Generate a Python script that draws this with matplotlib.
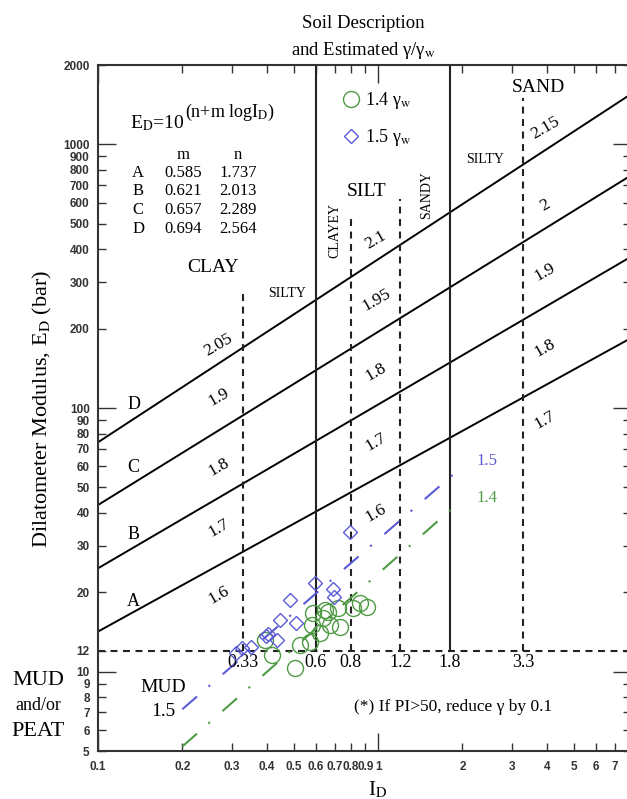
"""Dilatometer modulus vs material index chart with soil description
and estimated unit weight zones (E_D = 10^(n + m log I_D))."""
import math

import matplotlib

matplotlib.use("Agg")
import matplotlib.pyplot as plt  # noqa: E402
from matplotlib.ticker import FixedLocator, FuncFormatter  # noqa: E402

plt.rcParams["font.family"] = ["Liberation Serif", "DejaVu Serif"]
plt.rcParams["mathtext.fontset"] = "stix"
plt.rcParams["lines.scale_dashes"] = False

# coefficients of the four gamma lines
line_names = ["A", "B", "C", "D"]
m_vals = [0.585, 0.621, 0.657, 0.694]
n_vals = [1.737, 2.013, 2.289, 2.564]

# soil-type boundaries (I_D) and the E_D they run up to
id_bounds = [0.33, 0.6, 0.8, 1.2, 1.8, 3.3]
bound_tops = [280, 2000, 520, 620, 2000, 1500]
bound_labels = ["0.33", "0.6", "0.8", "1.2", "1.8", "3.3"]
solid_bounds = [0.6, 1.8]
mud_limit = 12

# gamma/gamma_w labels in each zone
clay_gamma = ["1.6", "1.7", "1.8", "1.9", "2.05"]
clay_gamma_ed = [19.5, 35.1, 59.8, 110, 173]
silt_gamma = ["1.6", "1.7", "1.8", "1.95", "2.1"]
silt_gamma_ed = [40, 74.3, 137, 257, 434]
sand_gamma = ["1.7", "1.8", "1.9", "2", "2.15"]
sand_gamma_ed = [90.1, 169, 328, 589, 1154]

# measured points
circle_id = [0.394, 0.418, 0.505, 0.527, 0.572, 0.581, 0.586, 0.621, 0.636,
             0.647, 0.663, 0.674, 0.720, 0.732, 0.814, 0.862, 0.914]
circle_ed = [13.2, 11.6, 10.3, 12.6, 13.0, 15.0, 16.7, 14.0, 16.0,
             17.1, 16.8, 15.0, 17.4, 14.8, 17.4, 18.2, 17.6]
diamond_id = [0.311, 0.327, 0.352, 0.398, 0.405, 0.436, 0.447, 0.485,
              0.510, 0.596, 0.691, 0.697, 0.794]
diamond_ed = [11.8, 12.3, 12.4, 13.7, 13.9, 13.2, 15.7, 18.7,
              15.3, 21.7, 20.6, 19.2, 33.9]

# fitted 1.5 / 1.4 gamma_w trend lines
guide_id = [0.2, 2.0]
guide15_ed = [7.2, 60]
guide14_ed = [5.2, 45]

X_MIN, X_MAX = 0.1, 8.0
GREEN = "#4f9a45"
BLUE = "#5b5bd6"

fig = plt.figure(figsize=(6.27, 7.99), dpi=100)
ax = fig.add_axes([98 / 627, 48 / 799, 533 / 627, 686 / 799])
ax.set_xscale("log")
ax.set_yscale("log")
ax.set_xlim(X_MIN, X_MAX)
ax.set_ylim(5, 2000)

# gamma lines A-D
for m, n in zip(m_vals, n_vals):
    xs = [X_MIN, X_MAX]
    ys = [10 ** (n + m * math.log10(x)) for x in xs]
    ax.plot(xs, ys, color="black", lw=1.4, zorder=2)

# zone boundaries
for b, top in zip(id_bounds, bound_tops):
    if b in solid_bounds:
        ax.plot([b, b], [mud_limit, top], color="#222222", lw=1.5, zorder=2)
    else:
        ax.plot([b, b], [mud_limit, top], color="#222222", lw=1.5,
                dashes=(5, 4), zorder=2)
ax.plot([X_MIN, X_MAX], [mud_limit, mud_limit], color="#222222", lw=1.5,
        dashes=(5, 4), zorder=2)
for b, lab in zip(id_bounds, bound_labels):
    ax.text(b, 10.8, lab, ha="center", va="center", fontsize=13)

# trend lines
ax.plot(guide_id, guide15_ed, color=BLUE, lw=1.5, dashes=(14, 11, 1.5, 12))
ax.plot(guide_id, guide14_ed, color=GREEN, lw=1.5, dashes=(14, 11, 1.5, 12))
ax.text(2.25, 63, "1.5", color=BLUE, fontsize=12, va="center")
ax.text(2.25, 45.5, "1.4", color=GREEN, fontsize=12, va="center")

# data
ax.plot(circle_id, circle_ed, "o", ms=11.5, mfc="none", mec=GREEN, mew=1.0,
        label="1.4 γ$_\\mathrm{w}$", zorder=3)
ax.plot(diamond_id, diamond_ed, "D", ms=7.5, mfc="none", mec=BLUE, mew=1.0,
        label="1.5 γ$_\\mathrm{w}$", zorder=3)
ax.legend(loc="upper left", bbox_to_anchor=(0.443, 0.976), frameon=False,
          fontsize=13, numpoints=1, handlelength=0.9, handletextpad=0.3,
          labelspacing=0.85, borderpad=0)

# zone gamma labels
for lab, ed in zip(clay_gamma, clay_gamma_ed):
    ax.text(0.27, ed, lab, rotation=30, ha="center", va="center", fontsize=12.5)
for lab, ed in zip(silt_gamma, silt_gamma_ed):
    ax.text(0.984, ed, lab, rotation=30, ha="center", va="center", fontsize=12.5)
for lab, ed in zip(sand_gamma, sand_gamma_ed):
    ax.text(3.95, ed, lab, rotation=30, ha="center", va="center", fontsize=12.5)

# line letters
for name, ed in zip(line_names, [18.4, 33.0, 59.3, 102.7]):
    ax.text(0.134, ed, name, ha="center", va="center", fontsize=13)

# soil descriptions
ax.text(0.2576, 340, "CLAY", ha="center", va="center", fontsize=14)
ax.text(0.473, 273, "SILTY", ha="center", va="center", fontsize=10)
ax.text(0.70, 473, "CLAYEY", ha="center", va="center", fontsize=10, rotation=90)
ax.text(0.906, 660, "SILT", ha="center", va="center", fontsize=14)
ax.text(1.496, 643, "SANDY", ha="center", va="center", fontsize=10, rotation=90)
ax.text(2.41, 873, "SILTY", ha="center", va="center", fontsize=10)
ax.text(3.73, 1637, "SAND", ha="center", va="center", fontsize=14)
ax.text(0.1706, 8.67, "MUD", ha="center", va="center", fontsize=14)
ax.text(0.1706, 7.03, "1.5", ha="center", va="center", fontsize=14)
ax.text(1.854, 7.34, "(*) If PI>50, reduce γ by 0.1", ha="center",
        va="center", fontsize=12.5)

# equation and coefficient table
eq = ax.text(0.13, 1200, "E$_\\mathrm{D}$=10", ha="left", va="center",
             fontsize=14)
ax.annotate("(n+m logI$_\\mathrm{D}$)", xy=(1, 0.55), xycoords=eq,
            ha="left", va="bottom", fontsize=13)
row_ed = [779, 666, 564, 478]
ax.text(0.2013, 912, "m", ha="center", va="center", fontsize=12)
ax.text(0.316, 912, "n", ha="center", va="center", fontsize=12)
for name, m, n, ed in zip(line_names, m_vals, n_vals, row_ed):
    ax.text(0.139, ed, name, ha="center", va="center", fontsize=12)
    ax.text(0.2013, ed, f"{m:.3f}", ha="center", va="center", fontsize=12)
    ax.text(0.316, ed, f"{n:.3f}", ha="center", va="center", fontsize=12)

# ticks
fmt = FuncFormatter(lambda v, _: f"{v:g}")
ax.xaxis.set_major_locator(FixedLocator([0.1, 1]))
ax.xaxis.set_minor_locator(FixedLocator([0.2, 0.3, 0.4, 0.5, 0.6, 0.7, 0.8,
                                         0.9, 2, 3, 4, 5, 6, 7, 8]))
ax.yaxis.set_major_locator(FixedLocator([10, 100, 1000]))
ax.yaxis.set_minor_locator(FixedLocator([5, 6, 7, 8, 9, 12, 20, 30, 40, 50,
                                         60, 70, 80, 90, 200, 300, 400, 500,
                                         600, 700, 800, 900, 2000]))
for axis in (ax.xaxis, ax.yaxis):
    axis.set_major_formatter(fmt)
    axis.set_minor_formatter(fmt)
ax.tick_params(which="both", direction="in", top=True, right=True,
               labelsize=8.5, labelfontfamily="Liberation Sans",
               color="#333333", width=1)
ax.tick_params(which="major", length=13)
ax.tick_params(which="minor", length=6)
ax.tick_params(axis="x", which="both", pad=7)
ax.tick_params(axis="y", which="both", pad=6)
for lbl in ax.get_xticklabels(which="both") + ax.get_yticklabels(which="both"):
    lbl.set_fontweight("bold")
    lbl.set_color("#333333")
for sp in ax.spines.values():
    sp.set_linewidth(1.5)
    sp.set_color("#333333")

# outer labels
fig.text(363 / 627, 0.971, "Soil Description", ha="center", va="center",
         fontsize=13.5)
fig.text(363 / 627, 0.9374, "and Estimated γ/γ$_\\mathrm{w}$", ha="center",
         va="center", fontsize=13.5)
fig.text(0.067, 0.488, "Dilatometer Modulus, E$_\\mathrm{D}$ (bar)",
         rotation=90, ha="center", va="center", fontsize=16)
fig.text(378 / 627, 0.024, "I$_\\mathrm{D}$", ha="center", va="top",
         fontsize=15)
fig.text(0.0606, 0.1477, "MUD", ha="center", va="center", fontsize=16)
fig.text(0.0606, 0.1164, "and/or", ha="center", va="center", fontsize=13)
fig.text(0.0606, 0.0851, "PEAT", ha="center", va="center", fontsize=16)

fig.savefig("out.png", dpi=100)
plt.close(fig)
